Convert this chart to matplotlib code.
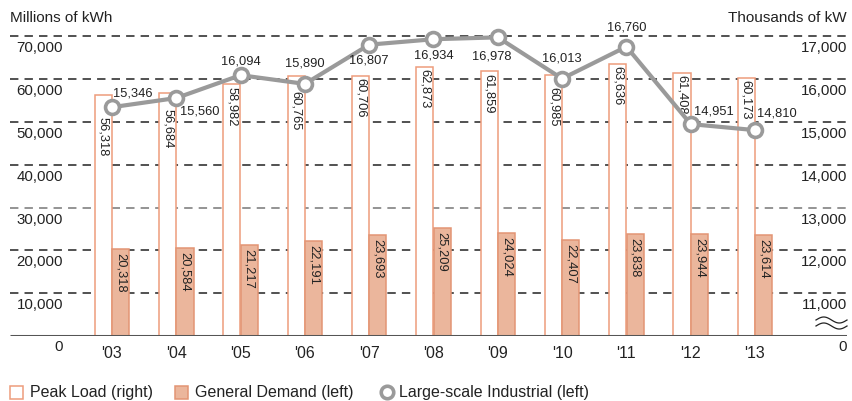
import matplotlib
matplotlib.use("Agg")
import matplotlib.pyplot as plt
from matplotlib.patches import Rectangle
from matplotlib.lines import Line2D
import numpy as np

plt.rcParams['font.family'] = ['Liberation Sans', 'DejaVu Sans']

years = ["'03", "'04", "'05", "'06", "'07", "'08", "'09", "'10", "'11", "'12", "'13"]
industrial = [56318, 56684, 58982, 60765, 60706, 62873, 61859, 60985, 63636, 61408, 60173]
general = [20318, 20584, 21217, 22191, 23693, 25209, 24024, 22407, 23838, 23944, 23614]
peak = [15346, 15560, 16094, 15890, 16807, 16934, 16978, 16013, 16760, 14951, 14810]
left_ticks = [10000, 20000, 30000, 40000, 50000, 60000, 70000]
right_ticks = [11000, 12000, 13000, 14000, 15000, 16000, 17000]

W, H = 853, 401
PX10K = 42.8          # pixels per 10,000 on the left scale
BASE = 336            # baseline pixel row
X0, DX = 112, 64.3    # first category pixel and spacing
YMAX = 78000

fig = plt.figure(figsize=(W / 100, H / 100), dpi=100)
ax = fig.add_axes([10 / W, (H - BASE) / H, 837 / W, YMAX / 10000 * PX10K / H])
xl = ((10 - X0) / DX, (847 - X0) / DX)
ax.set_xlim(*xl)
ax.set_ylim(0, YMAX)
ax.axis('off')

ax2 = ax.twinx()
ax2.set_ylim(10000, 10000 + YMAX / 10)
ax2.set_xlim(*xl)
ax2.axis('off')

def px2y(py):
    return (BASE - py) / PX10K * 10000

def px2x(px):
    return (px - X0) / DX

# dashed grid
for t in left_ticks:
    col = '#777777' if t == 30000 else '#222222'
    ax.plot(xl, [t, t], color=col, lw=1.1, ls=(0, (5.5, 4)), zorder=1)

x = np.arange(len(years))
bw = 0.265
off = 0.135
ax.bar(x - off, industrial, width=bw, color='white', edgecolor='#EE9C7C', lw=1.1, zorder=2)
ax.bar(x + off, general, width=bw, color='#EBB69C', edgecolor='#E39574', lw=1.1, zorder=2)

ax.plot(xl, [0, 0], color='#555555', lw=2.2, zorder=3, solid_capstyle='butt')

# bar value labels
ind_pad = [22, 16, 3, 15, 2, 2, 3, 12, 2, 2, 2]
for i, v in enumerate(industrial):
    ax.annotate(f"{v:,}", (x[i] - off, v), xytext=(0, -ind_pad[i] * 0.72), textcoords='offset points',
                rotation=270, ha='center', va='top', fontsize=9.3, color='#222222', zorder=4)
for i, v in enumerate(general):
    ax.annotate(f"{v:,}", (x[i] + off, v), xytext=(0, -4 * 0.72), textcoords='offset points',
                rotation=270, ha='center', va='top', fontsize=9.3, color='#222222', zorder=4)

# peak line
ax2.plot(x, peak, color='#9A9A9A', lw=3, marker='o', ms=10, mfc='white', mec='#9A9A9A', mew=2.6,
         zorder=5, clip_on=False)
lab_off = [(21, -14), (23, 13), (0, -14), (0, -20), (0, 16), (0, 16), (-6, 19), (0, -20), (0, -19),
           (23, -13), (22, -17)]
for i, v in enumerate(peak):
    dx, dy = lab_off[i]
    ax2.annotate(f"{v:,}", (x[i], v), xytext=(dx * 0.72, -dy * 0.72), textcoords='offset points',
                 ha='center', va='center', fontsize=9.3, color='#222222', zorder=6)

# axis labels
ty = ax.get_yaxis_transform()
lx = (63 - 10) / 837
for t in left_ticks:
    ax.text(lx, t - 12 / PX10K * 10000, f"{t:,}", transform=ty, ha='right', va='center',
            fontsize=10.8, color='#222222')
for tl, t in zip(left_ticks, right_ticks):
    ax.text(1.0, tl - 12 / PX10K * 10000, f"{t:,}", transform=ty, ha='right', va='center',
            fontsize=10.8, color='#222222')
ax.text(lx, px2y(347), "0", transform=ty, ha='right', va='center', fontsize=10.8, color='#222222')
ax.text(1.0, px2y(347), "0", transform=ty, ha='right', va='center', fontsize=10.8, color='#222222')
for i, yl in enumerate(years):
    ax.text(x[i], px2y(353), yl, ha='center', va='center', fontsize=11.5, color='#222222', clip_on=False)

fig.text(10 / W, 1 - 18 / H, "Millions of kWh", ha='left', va='center', fontsize=11, color='#222222')
fig.text(847 / W, 1 - 18 / H, "Thousands of kW", ha='right', va='center', fontsize=11, color='#222222')

# axis break mark
t = np.linspace(0, 1, 60)
for py in (320, 326):
    xs = px2x(816 + 31 * t)
    ys = px2y(py - 3 * np.sin(2 * np.pi * t))
    ax.plot(xs, ys, color='#222222', lw=0.9, clip_on=False, zorder=4)

# legend
fig.add_artist(Rectangle((10 / W, 1 - 399 / H), 13 / W, 13 / H, transform=fig.transFigure,
                         facecolor='white', edgecolor='#EE9C7C', lw=1.1))
fig.text(30 / W, 1 - 392 / H, "Peak Load (right)", ha='left', va='center', fontsize=11.5, color='#222222')
fig.add_artist(Rectangle((175 / W, 1 - 399 / H), 13 / W, 13 / H, transform=fig.transFigure,
                         facecolor='#EBB69C', edgecolor='#E39574', lw=1.1))
fig.text(195 / W, 1 - 392 / H, "General Demand (left)", ha='left', va='center', fontsize=11.5, color='#222222')
fig.add_artist(Line2D([387 / W], [1 - 392 / H], transform=fig.transFigure, marker='o', ms=9,
                      mfc='white', mec='#9A9A9A', mew=2.6))
fig.text(399 / W, 1 - 392 / H, "Large-scale Industrial (left)", ha='left', va='center', fontsize=11.5,
         color='#222222')

fig.savefig("out.png", dpi=100)
